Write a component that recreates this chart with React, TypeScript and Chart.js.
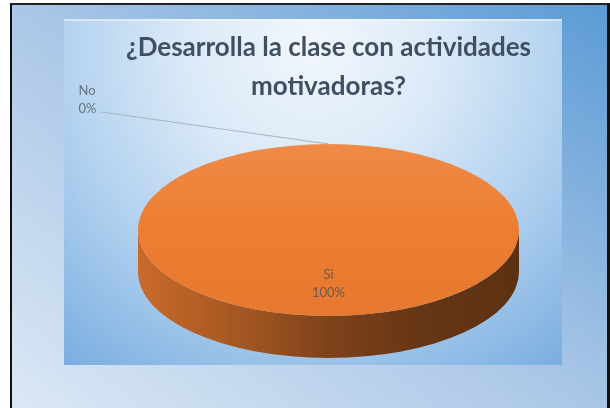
import React, { useEffect, useRef } from 'react';
import { Chart, registerables } from 'chart.js';

Chart.register(...registerables);

// ---- data ----
const categories = ['Si', 'No'];
const values = [100, 0];
const titleLines = ['¿Desarrolla la clase con actividades', 'motivadoras?'];
const sliceColors = ['#ED7D31', '#A5A5A5'];

// ---- 3D look ----
const TILT = 0.4514; // vertical squash of the pie
const DEPTH = 42; // thickness of the pie

function rgb(hex: string) {
  const h = hex.replace('#', '');
  return [0, 2, 4].map((i) => parseInt(h.substr(i, 2), 16));
}
function mul(hex: string, f: number) {
  const [r, g, b] = rgb(hex);
  return `rgb(${Math.round(r * f)},${Math.round(g * f)},${Math.round(b * f)})`;
}
function mix(hex: string, t: number) {
  const [r, g, b] = rgb(hex);
  return `rgb(${Math.round(r + (255 - r) * t)},${Math.round(g + (255 - g) * t)},${Math.round(b + (255 - b) * t)})`;
}

const pie3d = {
  id: 'pie3d',
  beforeDraw(chart: any) {
    const ctx = chart.ctx;
    ctx.save();
    const g = ctx.createRadialGradient(313, 45, 5, 313, 45, 420);
    g.addColorStop(0, '#f1f6fc');
    g.addColorStop(0.3, '#dae9f7');
    g.addColorStop(0.6, '#b2d1ef');
    g.addColorStop(1, '#74aade');
    ctx.fillStyle = g;
    ctx.fillRect(64, 19, 498, 346);
    ctx.fillStyle = 'rgba(255,255,255,0.45)';
    ctx.fillRect(64, 19, 498, 2);
    ctx.restore();
  },
  beforeDatasetsDraw(chart: any) {
    const ctx = chart.ctx;
    const meta = chart.getDatasetMeta(0);
    const data = chart.data.datasets[0].data as number[];
    const total = data.reduce((a, b) => a + b, 0);
    const colors = chart.data.datasets[0].backgroundColor as string[];
    ctx.save();
    // sides
    meta.data.forEach((arc: any, i: number) => {
      const p = arc.getProps(['x', 'y', 'outerRadius', 'startAngle', 'endAngle'], true);
      const { x, y, outerRadius: r, startAngle: s, endAngle: e } = p;
      if (e - s <= 1e-6) return;
      const ry = r * TILT;
      const base = colors[i];
      const lg = ctx.createLinearGradient(x - r, 0, x + r, 0);
      lg.addColorStop(0, mul(base, 0.85));
      lg.addColorStop(0.29, mul(base, 0.68));
      lg.addColorStop(0.5, mul(base, 0.53));
      lg.addColorStop(0.74, mul(base, 0.43));
      lg.addColorStop(1, mul(base, 0.39));
      for (const off of [-2 * Math.PI, 0, 2 * Math.PI]) {
        const lo = Math.max(s, off);
        const hi = Math.min(e, Math.PI + off);
        if (hi <= lo) continue;
        ctx.beginPath();
        ctx.ellipse(x, y, r, ry, 0, lo, hi, false);
        ctx.lineTo(x + r * Math.cos(hi), y + ry * Math.sin(hi) + DEPTH);
        ctx.ellipse(x, y + DEPTH, r, ry, 0, hi, lo, true);
        ctx.closePath();
        ctx.fillStyle = lg;
        ctx.fill();
      }
    });
    // top faces
    meta.data.forEach((arc: any, i: number) => {
      const { x, y, outerRadius: r, startAngle: s, endAngle: e } = arc.getProps(
        ['x', 'y', 'outerRadius', 'startAngle', 'endAngle'],
        true
      );
      if (e - s <= 1e-6) return;
      const ry = r * TILT;
      const base = colors[i];
      const vg = ctx.createLinearGradient(0, y - ry, 0, y + ry);
      vg.addColorStop(0, mix(base, 0.1));
      vg.addColorStop(0.5, base);
      vg.addColorStop(1, mul(base, 0.97));
      ctx.beginPath();
      if (e - s >= 2 * Math.PI - 1e-6) {
        ctx.ellipse(x, y, r, ry, 0, 0, 2 * Math.PI);
      } else {
        ctx.moveTo(x, y);
        ctx.ellipse(x, y, r, ry, 0, s, e, false);
        ctx.closePath();
      }
      ctx.fillStyle = vg;
      ctx.fill();
    });
    // data labels
    ctx.font = '13px Lato';
    ctx.textBaseline = 'middle';
    meta.data.forEach((arc: any, i: number) => {
      const { x, y, outerRadius: r, startAngle: s, endAngle: e } = arc.getProps(
        ['x', 'y', 'outerRadius', 'startAngle', 'endAngle'],
        true
      );
      const ry = r * TILT;
      const mid = (s + e) / 2;
      const pct = Math.round((data[i] / total) * 100) + '%';
      const name = chart.data.labels[i];
      if (e - s > 0.3) {
        const lx = x + Math.cos(mid) * r * 0.63;
        const ly = y + Math.sin(mid) * ry * 0.63;
        ctx.fillStyle = '#6e5a4e';
        ctx.textAlign = 'center';
        ctx.fillText(name, lx, ly - 9);
        ctx.fillText(pct, lx, ly + 9);
      } else {
        const ax = x + Math.cos(mid) * r;
        const ay = y + Math.sin(mid) * ry;
        ctx.strokeStyle = '#aab4be';
        ctx.lineWidth = 1;
        ctx.beginPath();
        ctx.moveTo(ax - 227, ay - 32);
        ctx.lineTo(ax, ay);
        ctx.stroke();
        ctx.fillStyle = '#66727e';
        ctx.textAlign = 'left';
        ctx.fillText(name, ax - 250, ay - 53);
        ctx.fillText(pct, ax - 250, ay - 35);
      }
    });
    ctx.restore();
    return false;
  },
};

export default function App() {
  const ref = useRef<HTMLCanvasElement>(null);
  useEffect(() => {
    if (!ref.current) return;
    const chart = new Chart(ref.current, {
      type: 'pie',
      data: {
        labels: categories,
        datasets: [{ data: values, backgroundColor: sliceColors, borderWidth: 0 }],
      },
      options: {
        animation: false,
        responsive: false,
        devicePixelRatio: 1,
        radius: 190.5,
        layout: { padding: { left: 95, right: 48, top: 0, bottom: 54.5 } },
        plugins: {
          legend: { display: false },
          tooltip: { enabled: false },
          title: {
            display: true,
            text: titleLines,
            color: '#414f62',
            font: { family: 'Lato', size: 26, weight: 'bold', lineHeight: 1.5 },
            padding: { top: 28.5, bottom: 0 },
          },
        },
      } as any,
      plugins: [pie3d],
    });
    return () => chart.destroy();
  }, []);
  return (
    <div style={{ position: 'absolute', left: 0, top: 0, width: 610, height: 408, overflow: 'hidden', background: '#fff' }}>
      <div
        style={{
          position: 'absolute',
          left: 10,
          top: 3,
          width: 600,
          height: 420,
          boxSizing: 'border-box',
          borderLeft: '2px solid #111',
          borderTop: '2px solid #222',
          borderRight: '3px solid #111',
          background: 'linear-gradient(to top right, #dde9f5 0%, #abc7e7 50%, #5b9bd5 100%)',
        }}
      />
      <canvas ref={ref} width={610} height={408} style={{ position: 'absolute', left: 0, top: 0 }} />
    </div>
  );
}
